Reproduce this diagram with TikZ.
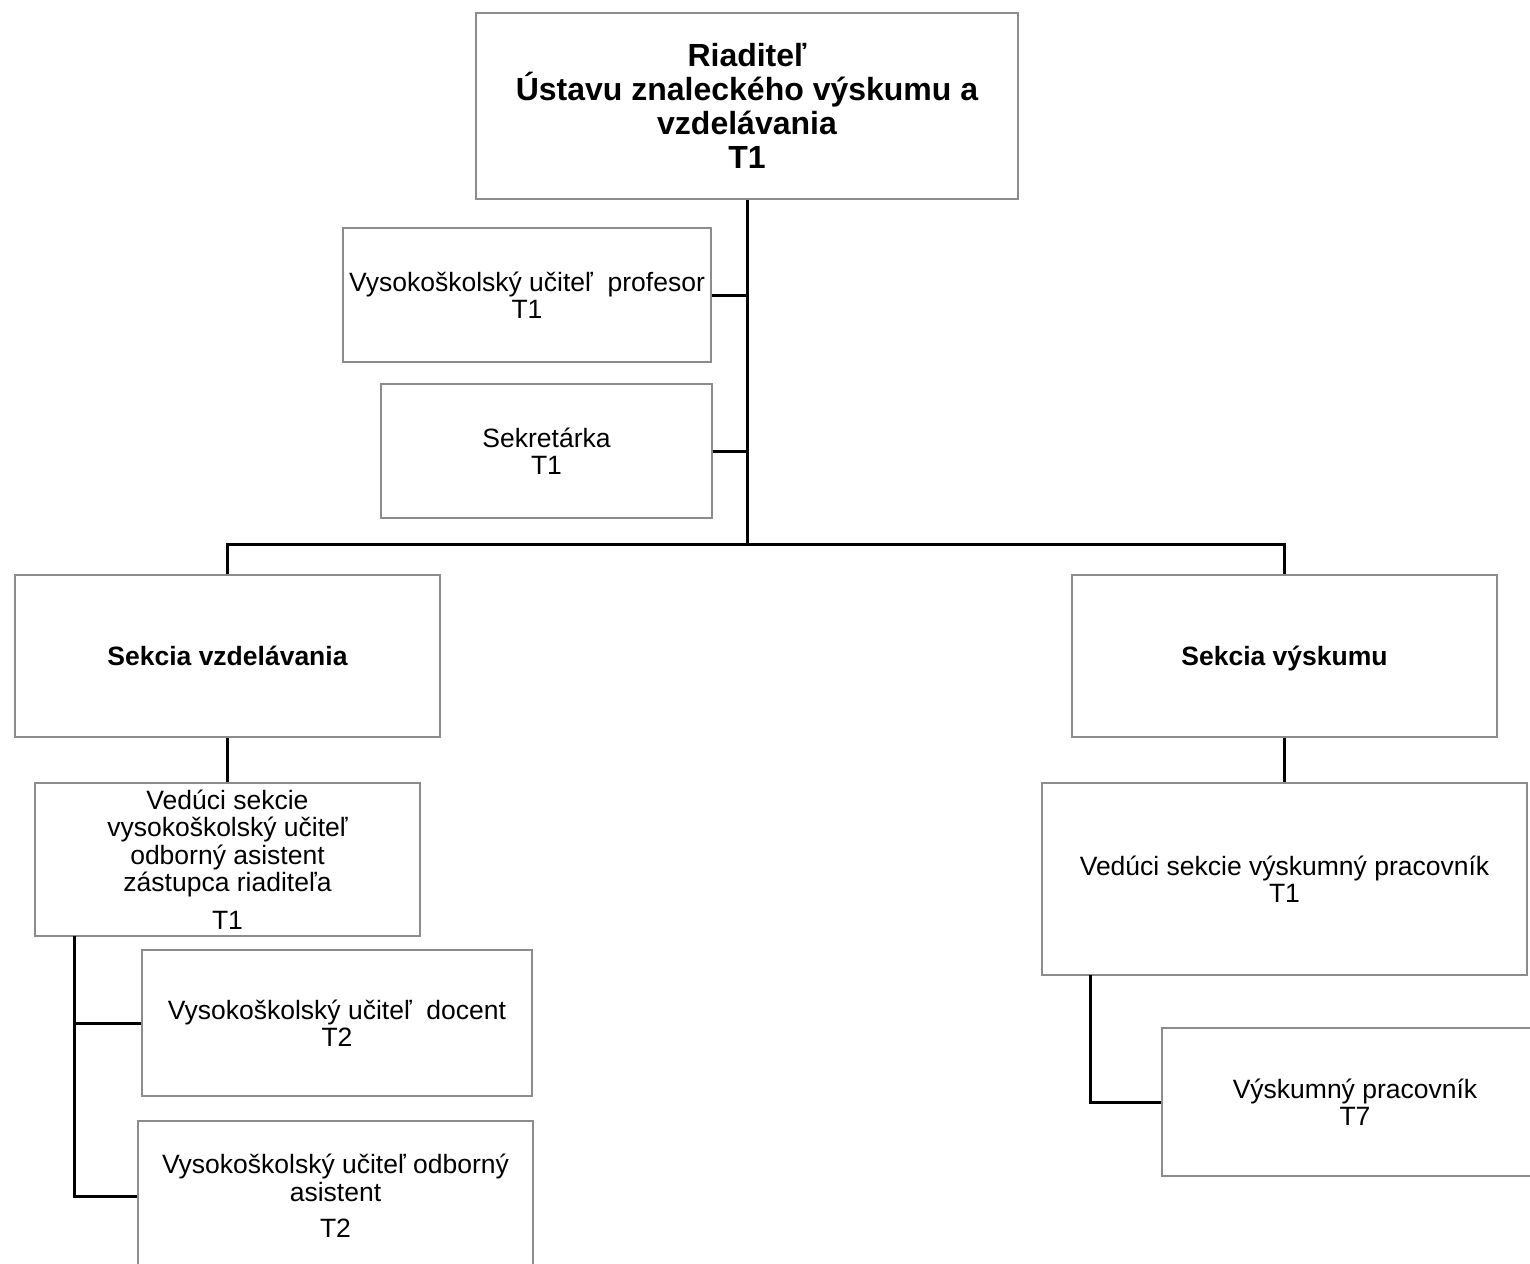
\documentclass[tikz,border=0pt]{standalone}
\usepackage{fontspec}
\setmainfont{Liberation Sans}
\definecolor{boxgray}{RGB}{140,140,140}
\begin{document}
\begin{tikzpicture}[x=1pt,y=-1pt,
  box/.style={draw=boxgray, line width=1.3pt, rectangle, inner sep=0pt, align=center, text=black,
     font=\fontsize{26.5}{27.5}\selectfont},
  titlebox/.style={box, font=\fontsize{32}{34}\selectfont\bfseries},
  secbox/.style={box, font=\fontsize{26.5}{30}\selectfont\bfseries, text height=19pt, text depth=0pt},
  conn/.style={draw=black, line width=3pt}]
\useasboundingbox (0,0) rectangle (1530,1263);

\node[titlebox, minimum width=542pt, minimum height=186pt] (dir) at (747,106)
  {Riaditeľ\\Ústavu znaleckého výskumu a\\vzdelávania\\T1};
\node[box, minimum width=368pt, minimum height=134pt] (prof) at (527,295)
  {Vysokoškolský učiteľ\ \ profesor\\T1};
\node[box, minimum width=331pt, minimum height=134pt] (sekr) at (546.5,451)
  {Sekretárka\\T1};
\node[secbox, minimum width=425pt, minimum height=162pt] (svzd) at (227.5,656)
  {Sekcia vzdelávania};
\node[secbox, minimum width=425pt, minimum height=162pt] (svys) at (1284.5,656)
  {Sekcia výskumu};
\node[box, minimum width=385pt, minimum height=153pt] (vedl) at (227.5,859.5)
  {Vedúci sekcie\\vysokoškolský učiteľ\\odborný asistent\\zástupca riaditeľa\\[10pt]T1};
\node[box, minimum width=390pt, minimum height=146pt] (doc) at (337,1023)
  {Vysokoškolský učiteľ\ \ docent\\T2};
\node[box, minimum width=395pt, minimum height=150pt] (odb) at (335.5,1196)
  {Vysokoškolský učiteľ odborný\\asistent\\[9pt]T2};
\node[box, minimum width=485pt, minimum height=192pt] (vedr) at (1284.5,879)
  {Vedúci sekcie výskumný pracovník\\T1};
\node[box, minimum width=386pt, minimum height=148pt] (vysk) at (1355,1102)
  {Výskumný pracovník\\T7};

\coordinate (j1) at (747,544);
\coordinate (jl) at (74,936);
\coordinate (jr) at (1090,975);

\draw[conn] (dir.south) -- (j1);
\draw[conn] (prof.east) -- (prof.east -| dir.south);
\draw[conn] (sekr.east) -- (sekr.east -| dir.south);
\draw[conn] (j1) -| (svzd.north);
\draw[conn] (j1) -| (svys.north);
\draw[conn] (svzd.south) -- (vedl.north);
\draw[conn] (svys.south) -- (vedr.north);
\draw[conn] (jl) |- (odb.west);
\draw[conn] (doc.west) -- (doc.west -| jl);
\draw[conn] (jr) |- (vysk.west);
\end{tikzpicture}
\end{document}
